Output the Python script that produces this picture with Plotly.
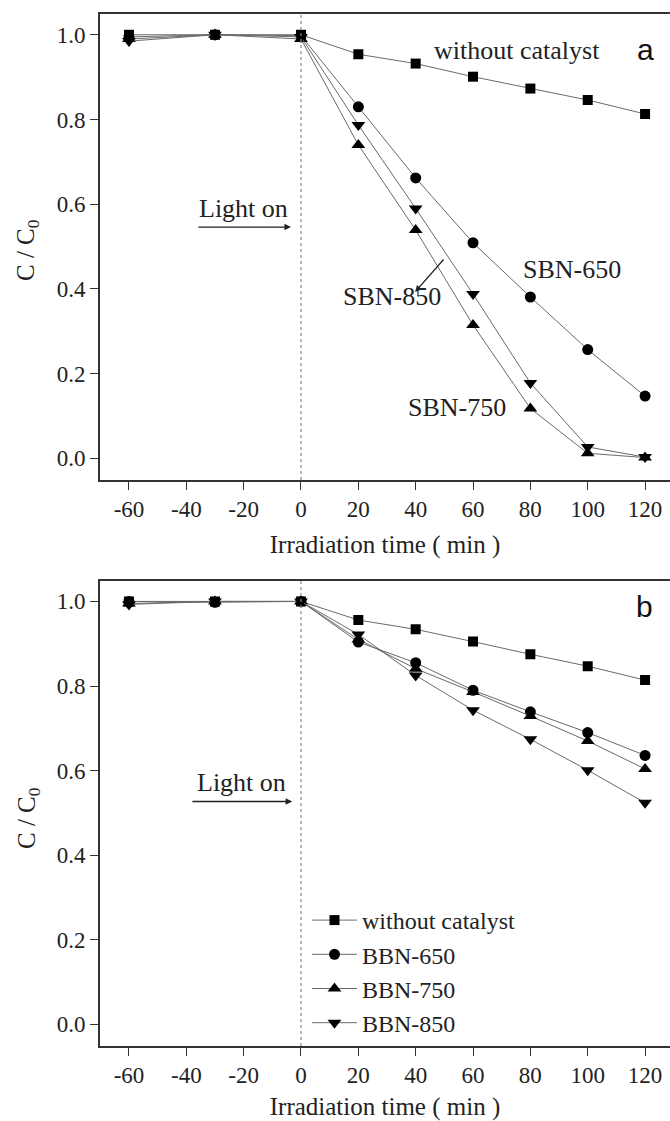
import plotly.graph_objects as go

# ---------------- data ----------------
time_min = [-60, -30, 0, 20, 40, 60, 80, 100, 120]

# panel a
a_without = [1.000, 1.000, 1.000, 0.954, 0.932, 0.901, 0.873, 0.846, 0.813]
a_sbn650 = [0.995, 1.000, 0.998, 0.830, 0.662, 0.509, 0.381, 0.257, 0.147]
a_sbn750 = [0.990, 1.000, 0.990, 0.740, 0.539, 0.315, 0.118, 0.012, 0.002]
a_sbn850 = [0.985, 1.000, 0.995, 0.787, 0.590, 0.388, 0.178, 0.027, 0.003]

# panel b
b_without = [1.000, 1.000, 1.000, 0.956, 0.934, 0.905, 0.875, 0.847, 0.814]
b_bbn650 = [1.000, 0.998, 1.000, 0.904, 0.855, 0.790, 0.739, 0.690, 0.636]
b_bbn750 = [0.995, 1.000, 1.000, 0.910, 0.841, 0.786, 0.729, 0.670, 0.604]
b_bbn850 = [0.993, 1.000, 1.000, 0.922, 0.825, 0.743, 0.674, 0.601, 0.524]

legend_names = ["without catalyst", "BBN-650", "BBN-750", "BBN-850"]
symbols = ["square", "circle", "triangle-up", "triangle-down"]
sizes = [10, 11, 12, 12]

x_ticks = [-60, -40, -20, 0, 20, 40, 60, 80, 100, 120]
x_ticktext = ["-60", "-40", "-20", "0", "20", "40", "60", "80", "100", "120"]
y_ticks = [0.0, 0.2, 0.4, 0.6, 0.8, 1.0]
y_ticktext = ["0.0", "0.2", "0.4", "0.6", "0.8", "1.0"]

W, H = 670, 1121
SERIF = "Liberation Serif"
LINE_COL = "#6a6a6a"
TXT = "#222222"

fig = go.Figure()

def add_series(ys, sym, size, xa, ya, name, show):
    fig.add_trace(go.Scatter(
        x=time_min, y=ys, mode="lines+markers", name=name, showlegend=show,
        xaxis=xa, yaxis=ya,
        line=dict(color=LINE_COL, width=1),
        marker=dict(symbol=sym, size=size, color="black", line=dict(width=0)),
    ))

for ys, sym, sz in zip([a_without, a_sbn650, a_sbn750, a_sbn850], symbols, sizes):
    add_series(ys, sym, sz, "x", "y", None, False)
for ys, sym, sz, nm in zip([b_without, b_bbn650, b_bbn750, b_bbn850], symbols, sizes, legend_names):
    add_series(ys, sym, sz, "x2", "y2", nm, True)

def py(p):  # pixel from top -> paper fraction
    return 1 - p / H

x_dom = [100 / W, 1.0]
top_dom = [py(480), py(14)]
bot_dom = [py(1046), py(580.7)]

axis_common = dict(
    showline=True, linecolor="#333333", linewidth=1.6,
    ticks="outside", ticklen=8, tickwidth=1.2, tickcolor="#333333",
    showgrid=False, zeroline=False,
    tickfont=dict(family=SERIF, size=23, color=TXT),
)

xr = [-70.1, 128.7]
yr = [-0.051, 1.049]
xtitle = dict(text="Irradiation time ( min )", font=dict(family=SERIF, size=25, color=TXT), standoff=14)

fig.update_layout(
    width=W, height=H,
    margin=dict(l=0, r=0, t=0, b=0),
    paper_bgcolor="white", plot_bgcolor="white",
    xaxis=dict(domain=x_dom, range=xr, tickvals=x_ticks, ticktext=x_ticktext, mirror=True,
               anchor="y", title=xtitle, **axis_common),
    yaxis=dict(domain=top_dom, range=yr, tickvals=y_ticks, ticktext=y_ticktext, anchor="x",
               **axis_common),
    xaxis2=dict(domain=x_dom, range=xr, tickvals=x_ticks, ticktext=x_ticktext, mirror=True,
                anchor="y2", title=xtitle, **axis_common),
    yaxis2=dict(domain=bot_dom, range=yr, tickvals=y_ticks, ticktext=y_ticktext, anchor="x2",
                **axis_common),
    legend=dict(x=307 / W, y=py(898), xanchor="left", yanchor="top",
                font=dict(family=SERIF, size=24, color=TXT),
                bgcolor="rgba(0,0,0,0)", tracegroupgap=0, itemwidth=45),
    showlegend=True,
)

# dotted "light on" lines
for xa, ya in [("x", "y"), ("x2", "y2")]:
    fig.add_shape(type="line", xref=xa, yref=f"{ya} domain", x0=0, x1=0, y0=0, y1=1,
                  line=dict(color="#888888", width=1.2, dash="dot"))

ann_font = dict(family=SERIF, size=26, color=TXT)
annotations = [
    dict(text="without catalyst", x=75.3, y=0.964, xref="x", yref="y", showarrow=False, font=ann_font),
    dict(text="SBN-650", x=94.5, y=0.445, xref="x", yref="y", showarrow=False, font=ann_font),
    dict(text="SBN-850", x=31.9, y=0.381, xref="x", yref="y", showarrow=False, font=ann_font),
    dict(text="SBN-750", x=54.4, y=0.121, xref="x", yref="y", showarrow=False, font=ann_font),
    dict(text="Light on", x=-19.9, y=0.591, xref="x", yref="y", showarrow=False, font=ann_font),
    dict(text="Light on", x=-20.6, y=0.572, xref="x2", yref="y2", showarrow=False, font=ann_font),
    # arrows
    dict(x=-3.5, y=0.546, ax=-36.3, ay=0.546, xref="x", yref="y", axref="x", ayref="y",
         text="", showarrow=True, arrowhead=2, arrowsize=1, arrowwidth=1.3, arrowcolor="#222"),
    dict(x=-3.1, y=0.527, ax=-38.4, ay=0.527, xref="x2", yref="y2", axref="x2", ayref="y2",
         text="", showarrow=True, arrowhead=2, arrowsize=1, arrowwidth=1.3, arrowcolor="#222"),
    dict(x=39.8, y=0.393, ax=50.2, ay=0.473, xref="x", yref="y", axref="x", ayref="y",
         text="", showarrow=True, arrowhead=2, arrowsize=1, arrowwidth=1.3, arrowcolor="#222"),
    # panel letters
    dict(text="a", x=656 / W, y=py(31), xref="paper", yref="paper", showarrow=False,
         font=dict(family="Liberation Sans", size=30, color="#111")),
    dict(text="b", x=655 / W, y=py(606), xref="paper", yref="paper", showarrow=False,
         font=dict(family="Liberation Sans", size=30, color="#111")),
    # y titles
    dict(text="C / C<sub>0</sub>", x=28 / W, y=py(250), xref="paper", yref="paper", showarrow=False,
         xanchor="center", yanchor="middle",
         textangle=-90, font=dict(family=SERIF, size=25, color=TXT)),
    dict(text="C / C<sub>0</sub>", x=28 / W, y=py(818), xref="paper", yref="paper", showarrow=False,
         xanchor="center", yanchor="middle",
         textangle=-90, font=dict(family=SERIF, size=25, color=TXT)),
]
fig.update_layout(annotations=annotations)

fig.write_html("out.html")
